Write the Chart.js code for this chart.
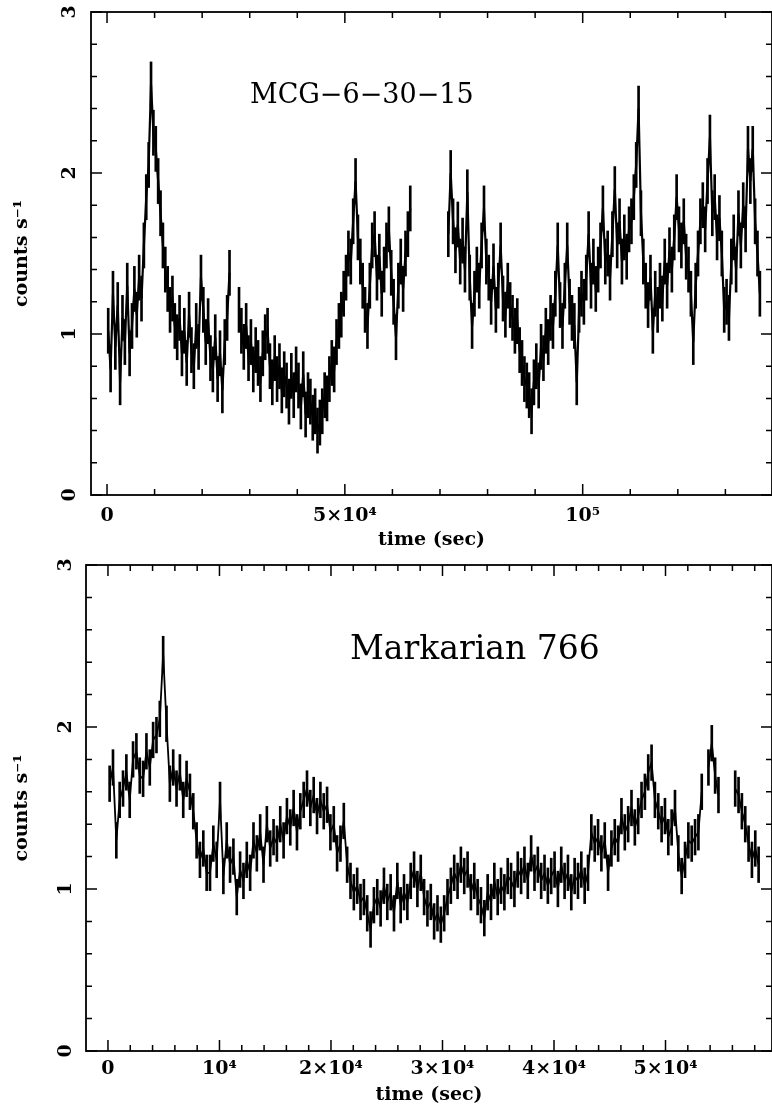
<!DOCTYPE html>
<html>
<head>
<meta charset="utf-8">
<title>MCG-6-30-15 / Markarian 766 light curves</title>
<script src="https://cdn.jsdelivr.net/npm/chart.js@4.4.1/dist/chart.umd.min.js"></script>
<style>
  html, body { margin: 0; padding: 0; background: #fff; }
  #wrap { position: relative; width: 772px; height: 1110px; }
  canvas { position: absolute; left: 0; display: block; }
</style>
</head>
<body>
<div id="wrap">
  <canvas id="mcgChart" width="772" height="555" style="top:0"></canvas>
  <canvas id="mrkChart" width="772" height="555" style="top:555px"></canvas>
</div>
<script>
// ==================== MCG-6-30-15 (500 s bins, two chunks) ====================
const MCG_BIN = 500;
const MCG_START_A = 250;
const mcgRateA = [
  1.02, 0.78, 1.25, 0.92, 1.18, 0.70, 1.10, 0.95, 1.30, 0.88,
  1.05, 1.28, 1.12, 1.35, 1.22, 1.55, 1.85, 2.05, 2.55, 2.25,
  2.15, 1.95, 1.75, 1.55, 1.40, 1.28, 1.15, 1.22, 1.05, 0.98,
  1.10, 0.88, 1.02, 0.82, 1.12, 0.90, 0.80, 1.05, 0.92, 1.35,
  1.15, 0.95, 1.08, 0.85, 0.78, 0.98, 0.72, 0.88, 0.65, 0.95,
  1.10, 1.38, null, null, null, 1.15, 1.02, 0.92, 1.05, 0.85,
  0.95, 0.78, 0.90, 0.82, 0.72, 0.88, 0.98, 1.02, 0.80, 0.70,
  0.85, 0.72, 0.80, 0.65, 0.75, 0.68, 0.58, 0.74, 0.62, 0.78,
  0.68, 0.55, 0.75, 0.50, 0.62, 0.58, 0.48, 0.52, 0.40, 0.45,
  0.52, 0.62, 0.60, 0.72, 0.82, 0.78, 0.95, 1.05, 1.12, 1.25,
  1.35, 1.50, 1.45, 1.70, 1.95, 1.60, 1.45, 1.30, 1.15, 1.05,
  1.30, 1.55, 1.62, 1.35, 1.48, 1.25, 1.40, 1.55, 1.65, 1.38,
  1.20, 0.98, 1.30, 1.45, 1.28, 1.50, 1.62, 1.78
];
const MCG_START_B = 71750;
const mcgRateB = [
  1.62, 2.00, 1.70, 1.52, 1.68, 1.45, 1.58,
  1.40, 1.88, 1.35, 1.05, 1.25, 1.40, 1.30, 1.55, 1.78, 1.45,
  1.35, 1.20, 1.42, 1.15, 1.30, 1.55, 1.22, 1.12, 1.30, 1.18,
  1.10, 1.02, 1.08, 0.90, 0.82, 0.72, 0.68, 0.62, 0.52, 0.70,
  0.80, 0.68, 0.92, 0.85, 1.02, 0.95, 1.10, 1.05, 1.25, 1.55,
  1.18, 1.05, 1.30, 1.55, 1.20, 1.10, 1.05, 0.70, 1.15, 1.25,
  1.20, 1.35, 1.62, 1.30, 1.45, 1.28, 1.40, 1.55, 1.78, 1.45,
  1.50, 1.35, 1.62, 1.90, 1.55, 1.70, 1.45, 1.60, 1.48, 1.65,
  1.70, 1.85, 2.05, 2.40, 1.75, 1.45, 1.30, 1.18, 1.35, 1.02,
  1.25, 1.15, 1.30, 1.22, 1.45, 1.30, 1.52, 1.40, 1.60, 1.85,
  1.65, 1.55, 1.70, 1.48, 1.40, 1.25, 0.95, 1.30, 1.50, 1.70,
  1.80, 1.65, 1.95, 2.22, 1.75, 1.85, 1.60, 1.72, 1.50, 1.15,
  1.20, 1.10, 1.45, 1.60, 1.40, 1.75, 1.55, 1.80, 1.65, 2.15,
  1.95, 2.15, 1.70, 1.50, 1.25
];
const MCG_ERR = 0.14;
const mcgXTicks = [0, 50000, 100000];
const mcgXLabels = ['0', '5×10⁴', '10⁵'];

// ==================== Markarian 766 (300 s bins) ====================
const MRK_BIN = 300;
const MRK_START = 150;
const mrkRate = [
  1.65, 1.75, 1.30, 1.55, 1.62, 1.72, 1.55, 1.80, 1.85, 1.70,
  1.68, 1.85, 1.75, 1.92, 1.95, 2.05, 2.45, 2.02, 1.65, 1.75,
  1.62, 1.72, 1.55, 1.68, 1.60, 1.48, 1.30, 1.18, 1.25, 1.10,
  1.10, 1.28, 1.18, 1.55, 1.08, 1.30, 1.15, 1.20, 0.95, 1.12,
  1.05, 1.18, 1.10, 1.30, 1.22, 1.35, 1.15, 1.40, 1.25, 1.32,
  1.28, 1.40, 1.30, 1.45, 1.38, 1.50, 1.35, 1.48, 1.55, 1.62,
  1.50, 1.58, 1.45, 1.55, 1.48, 1.52, 1.35, 1.40, 1.22, 1.28,
  1.42, 1.15, 1.05, 0.98, 1.02, 0.92, 0.95, 0.85, 0.75, 0.90,
  0.95, 0.88, 1.02, 0.92, 0.98, 0.85, 1.05, 0.90, 0.98, 0.92,
  1.05, 1.12, 1.00, 1.10, 0.95, 0.88, 0.92, 0.80, 0.85, 0.78,
  0.85, 0.95, 1.02, 1.10, 1.05, 1.15, 1.08, 1.12, 0.98, 1.05,
  0.95, 0.90, 0.82, 0.98, 0.92, 1.05, 0.95, 1.02, 0.98, 1.08,
  1.05, 1.00, 1.12, 1.08, 1.15, 1.05, 1.22, 1.10, 1.15, 1.05,
  1.10, 1.02, 1.08, 1.12, 1.00, 1.15, 1.05, 1.10, 0.98, 1.08,
  1.05, 1.12, 1.02, 1.10, 1.35, 1.28, 1.32, 1.22, 1.30, 1.10,
  1.25, 1.32, 1.28, 1.45, 1.35, 1.40, 1.50, 1.38, 1.45, 1.55,
  1.60, 1.72, 1.78, 1.55, 1.48, 1.40, 1.45, 1.32, 1.38, 1.50,
  1.22, 1.08, 1.18, 1.30, 1.28, 1.32, 1.35, 1.60, null, 1.75,
  1.90, 1.70, 1.58, null, null, null, null, 1.62, 1.58, 1.48,
  1.40, 1.28, 1.18, 1.25, 1.15
];
const MRK_ERR = 0.11;
const mrkXTicks = [0, 10000, 20000, 30000, 40000, 50000];
const mrkXLabels = ['0', '10⁴', '2×10⁴', '3×10⁴', '4×10⁴', '5×10⁴'];

const yTicks = [0, 1, 2, 3];

const AXIS_FONT = { family: 'DejaVu Serif', size: 19, weight: 'bold' };
const TICK_FONT = { family: 'DejaVu Serif', size: 19, weight: 'bold' };

// bin centres -> points
function toPoints(start, bin, rates) {
  return rates.map((r, i) => ({ x: start + i * bin, y: r }));
}

// error bars as floating bars
function toErrorBars(start, bin, rates, err) {
  const out = [];
  rates.forEach((r, i) => {
    if (r === null) return;
    out.push({ x: start + i * bin, y: [r - err, r + err] });
  });
  return out;
}

function lineSet(points, width) {
  return {
    type: 'line',
    data: points,
    borderColor: '#000',
    borderWidth: width,
    pointRadius: 0,
    tension: 0,
    spanGaps: false
  };
}

function errSet(bars, thick) {
  return {
    type: 'bar',
    data: bars,
    backgroundColor: '#000',
    borderWidth: 0,
    barThickness: thick,
    grouped: false
  };
}

// ==================== Frame, inward ticks, rotated y labels, object name ====================
const pgFrame = {
  id: 'pgFrame',
  afterDatasetsDraw(chart, args, opts) {
    const { ctx, chartArea: a, scales: { x, y } } = chart;
    ctx.save();
    ctx.strokeStyle = '#000';
    ctx.fillStyle = '#000';
    ctx.lineWidth = 1.8;
    ctx.strokeRect(a.left, a.top, a.right - a.left, a.bottom - a.top);

    ctx.lineWidth = 1.5;
    ctx.beginPath();
    const nx = Math.floor(x.max / opts.xMinor);
    for (let i = 0; i <= nx; i++) {
      const v = i * opts.xMinor;
      const px = x.getPixelForValue(v);
      const len = v % opts.xMajor === 0 ? 11 : 6;
      ctx.moveTo(px, a.bottom); ctx.lineTo(px, a.bottom - len);
      ctx.moveTo(px, a.top); ctx.lineTo(px, a.top + len);
    }
    for (let i = 0; i <= 15; i++) {
      const py = y.getPixelForValue(i * 0.2);
      const len = i % 5 === 0 ? 11 : 6;
      ctx.moveTo(a.left, py); ctx.lineTo(a.left + len, py);
      ctx.moveTo(a.right, py); ctx.lineTo(a.right - len, py);
    }
    ctx.stroke();

    ctx.font = `bold ${TICK_FONT.size}px "${TICK_FONT.family}"`;
    ctx.textAlign = 'center';
    ctx.textBaseline = 'middle';
    yTicks.forEach(v => {
      ctx.save();
      ctx.translate(a.left - opts.yLabelGap, y.getPixelForValue(v));
      ctx.rotate(-Math.PI / 2);
      ctx.fillText(String(v), 0, 0);
      ctx.restore();
    });

    ctx.font = opts.nameFont;
    ctx.textAlign = 'left';
    ctx.textBaseline = 'alphabetic';
    ctx.fillText(opts.name, opts.nameX, opts.nameY);
    ctx.restore();
  }
};

function makeLightCurve(canvasId, p) {
  const ctx = document.getElementById(canvasId).getContext('2d');
  return new Chart(ctx, {
    type: 'line',
    data: { datasets: p.datasets },
    options: {
      responsive: false,
      animation: false,
      events: [],
      layout: { padding: { top: p.top, right: 0, left: 0, bottom: 0 } },
      plugins: {
        legend: { display: false },
        tooltip: { enabled: false },
        pgFrame: {
          xMinor: p.xMinor, xMajor: p.xMajor, yLabelGap: p.yLabelGap,
          name: p.name, nameFont: p.nameFont, nameX: p.nameX, nameY: p.nameY
        }
      },
      scales: {
        x: {
          type: 'linear',
          min: p.xMin,
          max: p.xMax,
          offset: false,
          grid: { display: false, drawTicks: false },
          border: { display: false },
          afterBuildTicks: (scale) => { scale.ticks = p.xTicks.map(v => ({ value: v })); },
          ticks: {
            autoSkip: false,
            maxRotation: 0,
            padding: p.xTickPad,
            color: '#000',
            font: TICK_FONT,
            callback: (v) => p.xLabels[p.xTicks.indexOf(v)]
          },
          title: {
            display: true, text: 'time (sec)', color: '#000', font: AXIS_FONT,
            padding: { top: 0, bottom: 4 }
          },
          afterFit: (scale) => { scale.height = p.xHeight; }
        },
        y: {
          type: 'linear',
          min: 0,
          max: 3,
          grid: { display: false, drawTicks: false },
          border: { display: false },
          ticks: { display: false },
          title: {
            display: true, text: 'counts s⁻¹', color: '#000', font: AXIS_FONT,
            padding: { top: 11, bottom: 0 }
          },
          afterFit: (scale) => { scale.width = p.yWidth; }
        }
      }
    },
    plugins: [pgFrame]
  });
}

makeLightCurve('mcgChart', {
  datasets: [
    lineSet(toPoints(MCG_START_A, MCG_BIN, mcgRateA), 2.2),
    lineSet(toPoints(MCG_START_B, MCG_BIN, mcgRateB), 2.2),
    errSet(toErrorBars(MCG_START_A, MCG_BIN, mcgRateA, MCG_ERR), 2),
    errSet(toErrorBars(MCG_START_B, MCG_BIN, mcgRateB, MCG_ERR), 2)
  ],
  xMin: -3370, xMax: 139800, xTicks: mcgXTicks, xLabels: mcgXLabels,
  xMinor: 10000, xMajor: 50000,
  top: 12, xHeight: 60, yWidth: 91, xTickPad: 10, yLabelGap: 21,
  name: 'MCG−6−30−15', nameFont: '27px "DejaVu Serif"', nameX: 250, nameY: 103
});

makeLightCurve('mrkChart', {
  datasets: [
    lineSet(toPoints(MRK_START, MRK_BIN, mrkRate), 1.8),
    errSet(toErrorBars(MRK_START, MRK_BIN, mrkRate, MRK_ERR), 2)
  ],
  xMin: -1970, xMax: 59550, xTicks: mrkXTicks, xLabels: mrkXLabels,
  xMinor: 2000, xMajor: 10000,
  top: 10, xHeight: 59, yWidth: 86, xTickPad: 7, yLabelGap: 20,
  name: 'Markarian 766', nameFont: '33px "DejaVu Serif"', nameX: 350, nameY: 104
});
</script>
</body>
</html>
